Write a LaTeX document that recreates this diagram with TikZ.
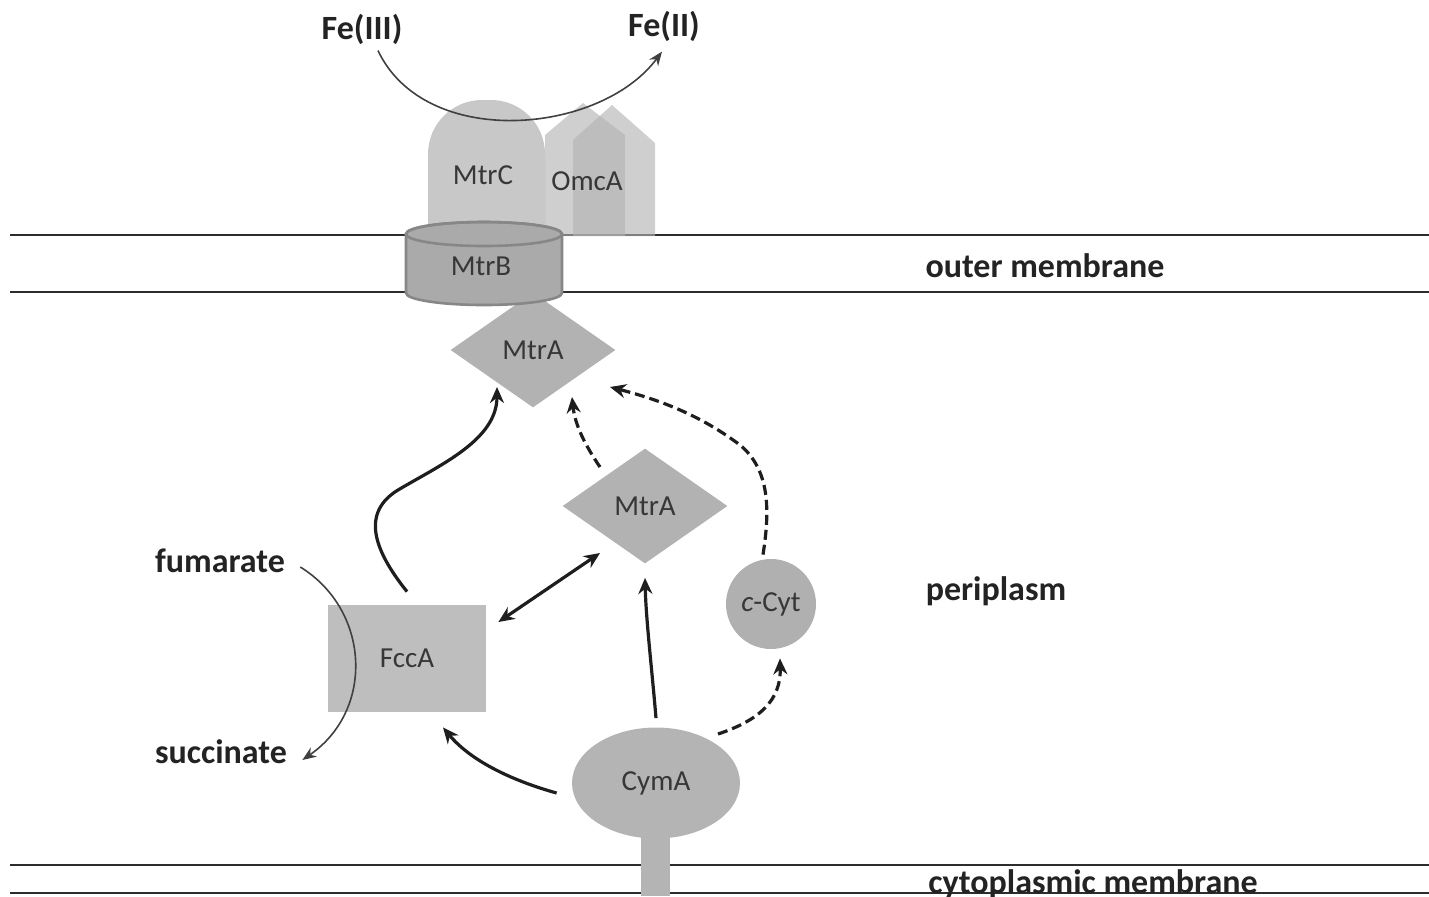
\documentclass[tikz,border=0pt]{standalone}
\usepackage{fontspec}
\setmainfont{Carlito}
\usetikzlibrary{shapes.geometric,arrows.meta}
\definecolor{lbl}{RGB}{55,55,55}
\definecolor{blbl}{RGB}{35,35,35}
\definecolor{memb}{RGB}{45,45,45}
\definecolor{mtrcc}{RGB}{200,200,200}
\definecolor{omcac}{RGB}{178,178,178}
\definecolor{mtrbc}{RGB}{170,170,170}
\definecolor{mtrbd}{RGB}{135,135,135}
\definecolor{diac}{RGB}{178,178,178}
\definecolor{fccac}{RGB}{190,190,190}
\definecolor{cytc}{RGB}{176,176,176}
\definecolor{cymac}{RGB}{180,180,180}
\definecolor{arr}{RGB}{30,30,30}
\tikzset{
  protlbl/.style={text=lbl,font=\fontsize{14.5}{17}\selectfont,inner sep=0pt},
  boldlbl/.style={text=blbl,font=\bfseries\fontsize{17}{20}\selectfont,inner sep=0pt},
  membline/.style={draw=memb,line width=1.1pt},
  diabox/.style={diamond,fill=diac,minimum width=82.5pt,minimum height=57.5pt,inner sep=0pt,text=lbl,font=\fontsize{14.5}{17}\selectfont},
  thickarr/.style={draw=arr,line width=1.6pt,-{Stealth[length=8pt,width=7pt]}},
  dasharr/.style={thickarr,dash pattern=on 5pt off 2.5pt},
  thinarr/.style={draw=arr!85!white,line width=0.8pt,-{Stealth[length=7pt,width=5.5pt]}}
}
\begin{document}
\begin{tikzpicture}[x=0.5pt,y=-0.5pt]
\useasboundingbox (0,0) rectangle (1429,896);
% membranes
\draw[membline] (10,235) -- (1429,235);
\draw[membline] (10,292) -- (1429,292);
\draw[membline] (10,865) -- (1429,865);
\draw[membline] (10,893) -- (1429,893);
% MtrA (upper), behind MtrB
\node[diabox] (mtra1) at (533,350) {MtrA};
% MtrC
\fill[mtrcc] (428,236) [rounded corners=27pt] -- (428,100) -- (545,100) [sharp corners] -- (545,236) -- cycle;
\node[protlbl] (mtrc) at (483,175) {MtrC};
% OmcA
\fill[omcac,fill opacity=0.62] (545,236) -- (545,135) -- (583,103) -- (625,135) -- (625,236) -- cycle;
\fill[omcac,fill opacity=0.62] (573,236) -- (573,140) -- (612,105) -- (655,143) -- (655,236) -- cycle;
\node[protlbl] (omca) at (587,181) {OmcA};
% MtrB cylinder
\filldraw[fill=mtrbc,draw=mtrbd,line width=1.3pt] (406,234) -- (406,293) arc[start angle=180,end angle=360,x radius=39pt,y radius=6pt] -- (562,234) arc[start angle=0,end angle=180,x radius=39pt,y radius=6pt] -- cycle;
\draw[mtrbd,line width=1.3pt] (484,234) ellipse [x radius=39pt,y radius=6pt];
\node[protlbl] (mtrb) at (481,266) {MtrB};
% lower proteins
\node[diabox] (mtra2) at (645,506) {MtrA};
\node[circle,fill=cytc,minimum size=45pt,inner sep=0pt,protlbl] (ccyt) at (771,604) {\textit{c}-Cyt};
\node[rectangle,fill=fccac,minimum width=79pt,minimum height=53.5pt,inner sep=0pt,protlbl] (fcca) at (407,658.5) {FccA};
\fill[cymac] (641,820) rectangle (670,896);
\node[ellipse,fill=cymac,minimum width=84pt,minimum height=55.5pt,inner sep=0pt,protlbl] (cyma) at (656,783) {CymA};
% text labels
\node[boldlbl] (feiii) at (362,29) {Fe(III)};
\node[boldlbl] (feii) at (664,26) {Fe(II)};
\node[boldlbl] (om) at (1045,266) {outer membrane};
\node[boldlbl] (peri) at (996,591) {periplasm};
\node[boldlbl,anchor=base] (cm) at (1093,893) {cytoplasmic membrane};
\node[boldlbl] (fum) at (220,561) {fumarate};
\node[boldlbl] (suc) at (221,752) {succinate};
% connectors
\draw[thinarr] ([xshift=8pt,yshift=-3pt]feiii.south) .. controls (425,150) and (600,135) .. ([xshift=-1pt,yshift=-5pt]feii.south);
\draw[thinarr] ([xshift=7.5pt,yshift=-3pt]fum.east) .. controls (370,610) and (375,710) .. ([xshift=7.5pt,yshift=-4pt]suc.east);
\draw[thickarr] ([yshift=6.5pt]fcca.north) .. controls (372,548) and (362,512) .. (398,490) .. controls (440,465) and (497,440) .. ([xshift=-18pt,yshift=-18.5pt]mtra1.center);
\draw[draw=arr,line width=1.6pt,{Stealth[length=8pt,width=7pt]}-{Stealth[length=8pt,width=7pt]}] ([xshift=6pt,yshift=18.25pt]fcca.east) -- ([xshift=-22.5pt,yshift=-23.5pt]mtra2.center);
\draw[thickarr] ([yshift=4.5pt]cyma.north) .. controls (652,670) and (646,620) .. ([yshift=-7pt]mtra2.south);
\draw[thickarr] ([xshift=-7.5pt,yshift=-5pt]cyma.west) .. controls (510,780) and (470,760) .. ([xshift=18pt,yshift=-7.5pt]fcca.south);
\draw[dasharr] ([xshift=31pt,yshift=24.5pt]cyma.center) .. controls (760,720) and (781,700) .. ([xshift=4.5pt,yshift=-4.5pt]ccyt.south);
\draw[dasharr] ([xshift=-4pt,yshift=2pt]ccyt.north) .. controls (770,510) and (770,470) .. (740,445) .. controls (700,415) and (660,400) .. ([xshift=38.5pt,yshift=-18.5pt]mtra1.center);
\draw[dasharr] ([xshift=-22.5pt,yshift=19.5pt]mtra2.center) .. controls (585,445) and (575,425) .. ([xshift=19.5pt,yshift=-23.5pt]mtra1.center);
\end{tikzpicture}
\end{document}
